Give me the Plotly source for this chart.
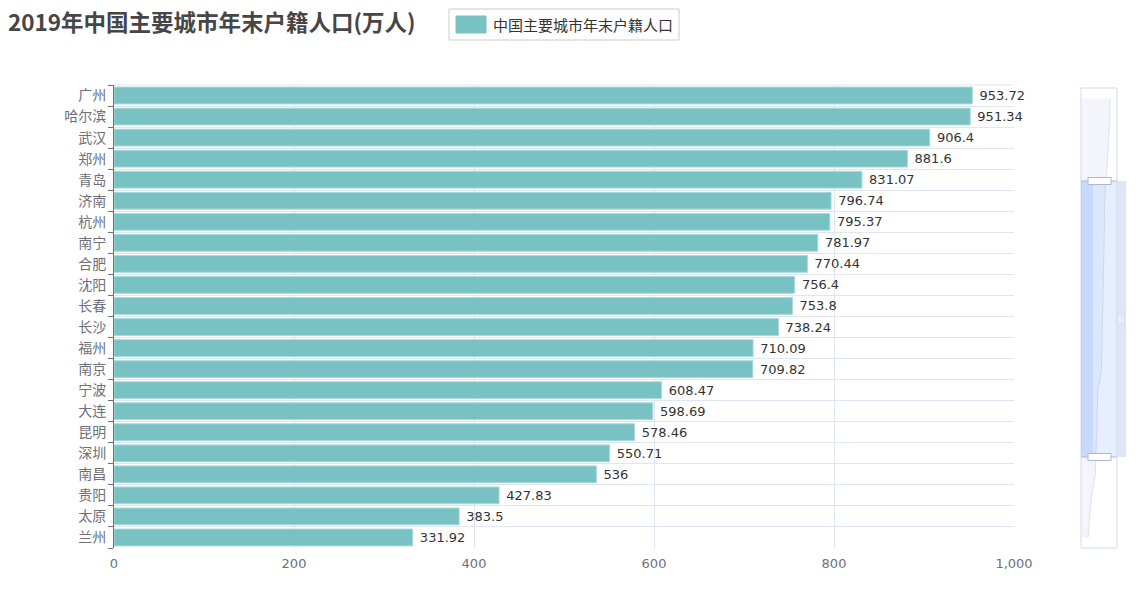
import plotly.graph_objects as go

cities = ["广州", "哈尔滨", "武汉", "郑州", "青岛", "济南", "杭州", "南宁", "合肥", "沈阳", "长春",
          "长沙", "福州", "南京", "宁波", "大连", "昆明", "深圳", "南昌", "贵阳", "太原", "兰州"]
population = [953.72, 951.34, 906.4, 881.6, 831.07, 796.74, 795.37, 781.97, 770.44, 756.4, 753.8,
              738.24, 710.09, 709.82, 608.47, 598.69, 578.46, 550.71, 536, 427.83, 383.5, 331.92]
series_name = "中国主要城市年末户籍人口"
title_text = "2019年中国主要城市年末户籍人口(万人)"
x_ticks = [0, 200, 400, 600, 800, 1000]

W, H = 1137, 589
L, R, T, B = 114, 20, 85, 41
PW = W - L - R
PH = H - T - B
CJK = "Noto Sans CJK SC, sans-serif"
NUM = "DejaVu Sans, Noto Sans CJK SC, sans-serif"
BAR = "#78c2c4"


def px(x):
    return (x - L) / PW


def py(y):
    return (H - B - y) / PH


pos = list(range(len(cities)))

fig = go.Figure()
fig.add_trace(go.Bar(
    x=population, y=pos, orientation="h", name=series_name,
    marker=dict(color=BAR, line=dict(color="#a9dadb", width=1)),
    text=[f"\u00a0{v:g}" for v in population], textposition="outside",
    textfont=dict(size=13, color="#333333", family=NUM),
    cliponaxis=False, showlegend=False,
))

# slider data shadow
fig.add_trace(go.Scatter(
    x=population, y=pos, xaxis="x2", yaxis="y2", mode="lines",
    line=dict(color="#dbe3f1", width=1), fill="tozerox", fillcolor="rgba(228,233,244,0.45)",
    showlegend=False, hoverinfo="skip",
))

xd1 = (1014 - L) / PW
fig.update_layout(
    width=W, height=H,
    margin=dict(l=L, r=R, t=T, b=B, autoexpand=False),
    paper_bgcolor="white", plot_bgcolor="white",
    bargap=0.2,
    font=dict(family=NUM, size=13, color="#6e7079"),
    title=dict(text=f"<b>{title_text}</b>", x=8 / W, xanchor="left", xref="container",
               y=1 - 23 / H, yanchor="middle", yref="container",
               font=dict(size=22.5, color="#464646", family=CJK)),
    xaxis=dict(domain=[0, xd1], range=[0, 1000], tickvals=x_ticks, tickformat=",",
               showgrid=True, gridcolor="#e0e6f1", gridwidth=1, zeroline=False,
               showline=False, ticks="", tickfont=dict(size=13, color="#6e7079", family=NUM),
               ticklabelstandoff=6),
    yaxis=dict(range=[len(cities) - 0.5, -0.5], tickvals=pos, ticktext=cities,
               showgrid=False, zeroline=False, showline=True, linecolor="#6e7079",
               linewidth=1, ticks="", tickfont=dict(size=14, color="#6e7079", family=CJK),
               ticklabelstandoff=4,
               minor=dict(tickmode="linear", tick0=-0.5, dtick=1, ticks="outside",
                          ticklen=5, tickcolor="#6e7079", showgrid=True,
                          gridcolor="#e0e6f1", gridwidth=1)),
    xaxis2=dict(domain=[px(1081), px(1117)], range=[133, 1150], visible=False,
                anchor="y2"),
    yaxis2=dict(domain=[max(0, py(548)), min(1, py(88))], range=[len(cities) - 0.5, -0.5],
                visible=False, anchor="x2"),
    showlegend=False,
)

shapes = []
shapes.append(dict(type="line", xref="x", yref="paper", x0=0, x1=1000, y0=1, y1=1,
                   line=dict(color="#e0e6f1", width=1)))
shapes.append(dict(type="rect", xref="paper", yref="paper", x0=px(1081), x1=px(1117),
                   y0=py(548), y1=py(88), line=dict(color="#d2dbee", width=1),
                   fillcolor="rgba(0,0,0,0)"))
shapes.append(dict(type="rect", xref="paper", yref="paper", x0=px(1081), x1=px(1117),
                   y0=py(457), y1=py(181), line=dict(width=0),
                   fillcolor="rgba(135,175,255,0.2)"))
shapes.append(dict(type="rect", xref="paper", yref="paper", x0=px(1081), x1=px(1093),
                   y0=py(457), y1=py(181), line=dict(width=0),
                   fillcolor="rgba(135,175,255,0.25)"))
shapes.append(dict(type="rect", xref="paper", yref="paper", x0=px(1117), x1=px(1126),
                   y0=py(457), y1=py(181), line=dict(width=0),
                   fillcolor="#dfe5f3"))
for yy in (181, 457):
    shapes.append(dict(type="line", xref="paper", yref="paper", x0=px(1081), x1=px(1117),
                       y0=py(yy), y1=py(yy), line=dict(color="#acb8d1", width=1)))
    shapes.append(dict(type="rect", xref="paper", yref="paper", x0=px(1088), x1=px(1111),
                       y0=py(yy + 3.5), y1=py(yy - 3.5), line=dict(color="#acb8d1", width=1),
                       fillcolor="white"))
shapes.append(dict(type="rect", xref="paper", yref="paper", x0=px(449), x1=px(679),
                   y0=py(40), y1=py(9), line=dict(color="#cccccc", width=1),
                   fillcolor="white"))
shapes.append(dict(type="rect", xref="paper", yref="paper", x0=px(456), x1=px(486),
                   y0=py(33), y1=py(16), line=dict(color=BAR, width=1),
                   fillcolor=BAR))
fig.update_layout(shapes=shapes)

fig.add_annotation(xref="paper", yref="paper", x=px(491), y=py(24.5), text=series_name,
                   showarrow=False, xanchor="left", yanchor="middle",
                   font=dict(size=15, color="#333333", family=CJK))
fig.add_annotation(xref="paper", yref="paper", x=px(1121.5), y=py(319), text="≡",
                   showarrow=False, xanchor="center", yanchor="middle", textangle=90,
                   font=dict(size=8, color="white", family=CJK))

fig.write_html("out.html")
